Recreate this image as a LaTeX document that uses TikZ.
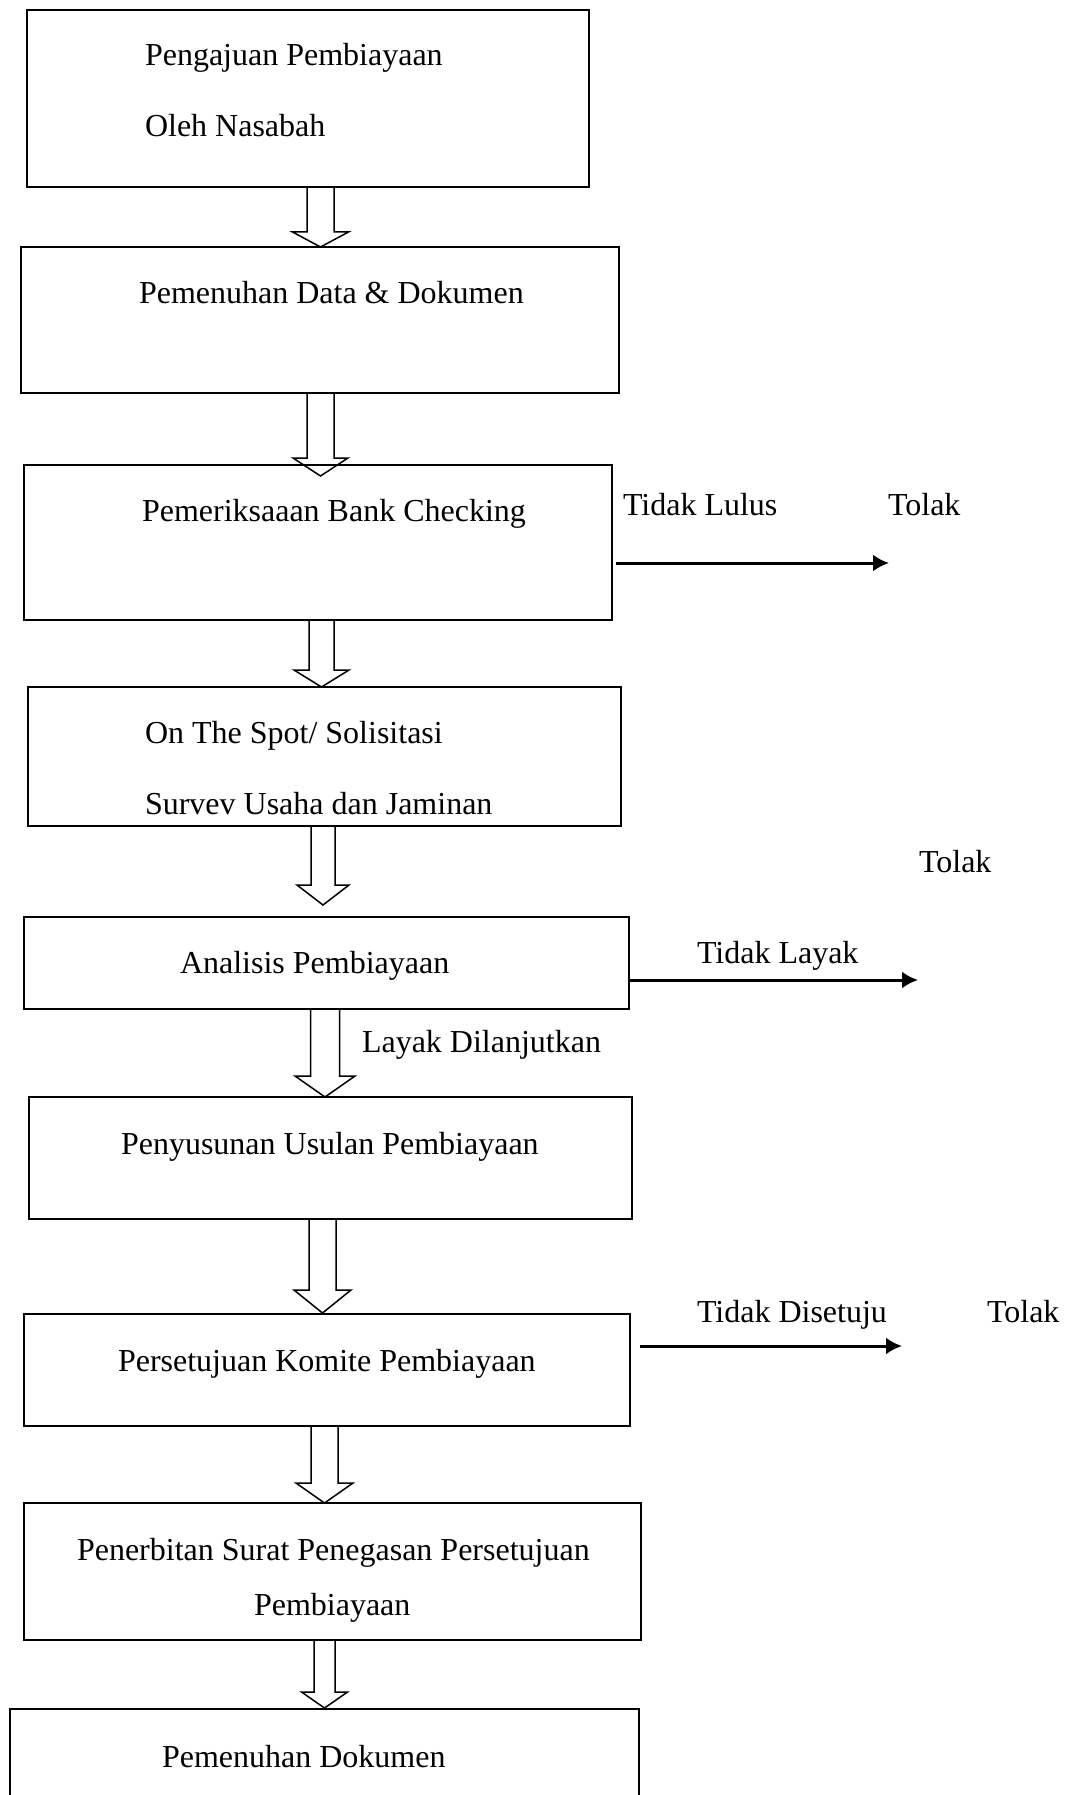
\documentclass[tikz,border=0pt]{standalone}
\usepackage{fontspec}
\setmainfont{Liberation Serif}
\usetikzlibrary{arrows.meta}
\tikzset{
  box/.style={draw, line width=1.5pt, inner sep=0pt, outer sep=0pt, anchor=north west},
  lbl/.style={inner sep=0pt, outer sep=0pt, anchor=base west, font=\fontsize{32}{38}\selectfont},
  barrow/.style={draw, line width=1.5pt, line join=miter},
  rejarrow/.style={line width=3pt, -{Latex[length=16pt,width=17pt]}}
}
\newcommand\blockarrow[6]{%
  \draw[barrow] ({#1-#5},#2) -- ({#1-#5},#3) -- ({#1-#6},#3) -- (#1,#4) -- ({#1+#6},#3) -- ({#1+#5},#3) -- ({#1+#5},#2);}
\begin{document}
\begin{tikzpicture}[x=1pt,y=-1pt]
\useasboundingbox (0,0) rectangle (1067,1795);
\clip (0,0) rectangle (1067,1795);
% boxes
\node[box, minimum width=562pt, minimum height=177pt] (b1) at (27,10) {};
\node[box, minimum width=598pt, minimum height=146pt] (b2) at (21,247) {};
\node[box, minimum width=588pt, minimum height=155pt] (b3) at (24,465) {};
\node[box, minimum width=593pt, minimum height=139pt] (b4) at (28,687) {};
\node[box, minimum width=605pt, minimum height=92pt] (b5) at (24,917) {};
\node[box, minimum width=603pt, minimum height=122pt] (b6) at (29,1097) {};
\node[box, minimum width=606pt, minimum height=112pt] (b7) at (24,1314) {};
\node[box, minimum width=617pt, minimum height=137pt] (b8) at (24,1503) {};
\node[box, minimum width=629pt, minimum height=120pt] (b9) at (10,1709) {};
% texts in boxes
\node[lbl] (t1a) at (145,66) {Pengajuan Pembiayaan};
\node[lbl] (t1b) at (145,137) {Oleh Nasabah};
\node[lbl] (t2) at (139,303) {Pemenuhan Data \& Dokumen};
\node[lbl] (t3) at (142,521) {Pemeriksaaan Bank Checking};
\node[lbl] (t4a) at (145,743) {On The Spot/ Solisitasi};
\node[lbl] (t4b) at (145,814) {Survev Usaha dan Jaminan};
\node[lbl] (t5) at (180,973) {Analisis Pembiayaan};
\node[lbl] (t6) at (121,1154) {Penyusunan Usulan Pembiayaan};
\node[lbl] (t7) at (118,1371) {Persetujuan Komite Pembiayaan};
\node[lbl] (t8a) at (77,1560) {Penerbitan Surat Penegasan Persetujuan};
\node[lbl] (t8b) at (254,1615) {Pembiayaan};
\node[lbl] (t9) at (162,1767) {Pemenuhan Dokumen};
% side labels
\node[lbl] (l1) at (623,515) {Tidak Lulus};
\node[lbl] (k1) at (888,515) {Tolak};
\node[lbl] (k2) at (919,872) {Tolak};
\node[lbl] (l2) at (697,963) {Tidak Layak};
\node[lbl] (l3) at (362,1052) {Layak Dilanjutkan};
\node[lbl] (l4) at (697,1322) {Tidak Disetuju};
\node[lbl] (k3) at (987,1322) {Tolak};
% hollow block arrows
\blockarrow{320.5}{187}{232}{247}{13.5}{28}
\blockarrow{320.5}{393}{458}{476}{13.5}{27.5}
\blockarrow{321.5}{620}{670}{687}{12.5}{27.5}
\blockarrow{323}{826}{885}{905}{12}{26}
\blockarrow{325}{1009}{1076}{1097}{14.5}{30}
\blockarrow{322.5}{1219}{1290}{1313}{13.5}{28.5}
\blockarrow{324.5}{1426}{1483}{1503}{13.5}{28.5}
\blockarrow{324.5}{1640}{1692}{1708}{10.5}{23}
% reject arrows
\coordinate (r1s) at (b3.east |- 0,563);
\coordinate (r1e) at (889,563);
\coordinate (r2s) at (b5.east |- 0,980);
\coordinate (r2e) at (918,980);
\coordinate (r3s) at (640,1346);
\coordinate (r3e) at (902,1346);
\draw[rejarrow] ([xshift=4pt]r1s) -- (r1e);
\draw[rejarrow] (r2s) -- (r2e);
\draw[rejarrow] (r3s) -- (r3e);
\end{tikzpicture}
\end{document}
